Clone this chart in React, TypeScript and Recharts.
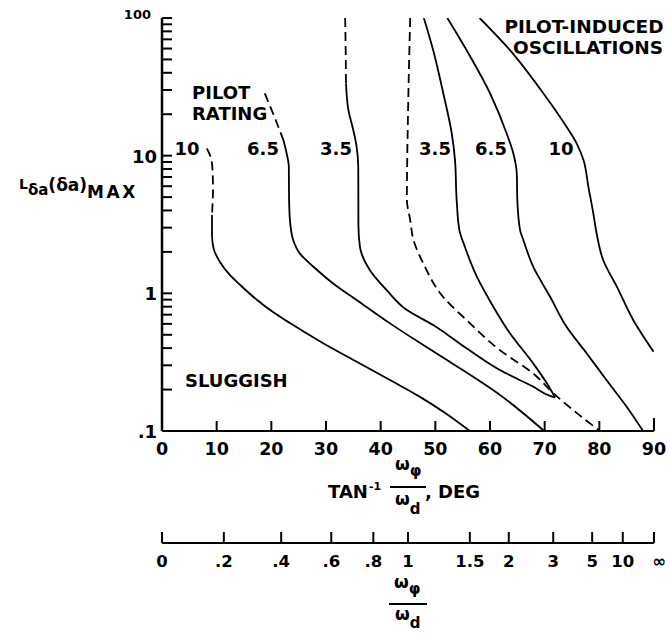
import React from 'react';
import { LineChart, Line, XAxis, YAxis } from 'recharts';

type P = { x: number; y: number };
const toPts = (a: number[][]): P[] => a.map(([x, y]) => ({ x, y }));

// [tan^-1(w_phi/w_d) deg, L_da (da)max]
const sluggish10Dashed = toPts([[8.2, 11.3], [8.96, 9.6], [9.24, 7.9], [9.33, 5.6], [9.24, 4.4], [9.15, 3.7]]);
const sluggish10 = toPts([[9.15, 3.7], [9.15, 2.65], [9.42, 2.13], [10.6, 1.69], [12.4, 1.36], [14.3, 1.15], [17.4, 0.894], [20.3, 0.731], [23.4, 0.608], [29.4, 0.436], [35.7, 0.317], [41.7, 0.235], [47.2, 0.177], [51.8, 0.135], [56.3, 0.1]]);
const sluggish65Dashed = toPts([[18.8, 28.3], [20.5, 19.4], [22.2, 13.0]]);
const sluggish65 = toPts([[22.2, 13.0], [22.8, 10.4], [23.2, 8.3], [23.25, 4.76], [23.4, 3.41], [24.0, 2.44], [25.2, 1.95], [27.7, 1.56], [31.3, 1.18], [35.6, 0.894], [41.7, 0.605], [47.8, 0.421], [52.7, 0.317], [61.8, 0.183], [69.9, 0.1]]);
const sluggish35Dashed = toPts([[33.5, 100], [33.6, 58.5], [33.66, 33.5]]);
const sluggish35 = toPts([[33.66, 33.5], [34.1, 21.4], [35.0, 15.3], [35.6, 11.6], [35.9, 8.3], [35.92, 4.76], [35.93, 3.13], [36.2, 2.18], [38.0, 1.48], [41.1, 1.056], [44.8, 0.756], [49.6, 0.589], [55.7, 0.399], [61.8, 0.277], [67.9, 0.21], [71.0, 0.18], [71.9, 0.175]]);
const boundaryDashed = toPts([[45.4, 100], [45.05, 25.3], [44.8, 4.76], [45.4, 3.41], [46.0, 2.44], [47.8, 1.65], [51.4, 0.944], [55.7, 0.64], [61.8, 0.387], [67.9, 0.262], [71.6, 0.188], [75.2, 0.142], [80.1, 0.1]]);
const pio35 = toPts([[47.9, 100], [49.6, 58.5], [51.45, 28.4], [53.0, 14.5], [53.6, 9.29], [53.9, 4.76], [54.4, 2.88], [55.4, 2.18], [57.6, 1.32], [60.6, 0.8], [63.65, 0.512], [67.9, 0.31], [70.4, 0.222], [71.9, 0.175]]);
const pio65 = toPts([[52.2, 100], [55.7, 58.5], [60.0, 28.4], [63.05, 14.5], [64.26, 10.4], [64.9, 7.44], [65.0, 4.76], [65.5, 2.88], [66.1, 2.44], [67.9, 1.56], [71.0, 0.944], [74.0, 0.571], [77.7, 0.366], [81.3, 0.235], [85.0, 0.15], [88.0, 0.1]]);
const pio10 = toPts([[58.1, 100], [63.65, 58.5], [69.75, 28.4], [74.0, 16.2], [75.85, 12.3], [77.1, 9.29], [78.0, 5.94], [78.9, 3.81], [79.5, 2.73], [80.7, 1.745], [83.2, 1.117], [86.2, 0.64], [89.9, 0.377]]);

const degTicks = [0, 10, 20, 30, 40, 50, 60, 70, 80, 90];
const ratioValues = [0, 0.2, 0.4, 0.6, 0.8, 1, 1.5, 2, 3, 5, 10, Infinity];
const ratioLabels = ['0', '.2', '.4', '.6', '.8', '1', '1.5', '2', '3', '5', '10', '\u221E'];
const ratioTicks = ratioValues.map((r) => (Math.atan(r) * 180) / Math.PI);
const yTicks = [0.1, 0.2, 0.3, 0.4, 0.5, 0.6, 0.7, 0.8, 0.9, 1, 2, 3, 4, 5, 6, 7, 8, 9, 10, 20, 30, 40, 50, 60, 70, 80, 90, 100];
const yLabels: Record<string, string> = { '0.1': '.1', '1': '1', '10': '10', '100': '100' };

const FONT = "'DejaVu Sans', 'Liberation Sans', sans-serif";
const W = 669;
const H = 634;
const M = { top: 18, right: 15, bottom: 0, left: 0 };
const Y_W = 162;
const X1_H = 112;
const X2_H = 91;
const PLOT_L = M.left + Y_W;
const PLOT_B = H - M.bottom - X1_H - X2_H;
const AX2_Y = PLOT_B + X1_H;

const DegTick = (props: any) => {
  const { x, payload } = props;
  const v = payload.value;
  return (
    <g>
      <line x1={x} x2={x} y1={PLOT_B} y2={PLOT_B - (v === 90 ? 13 : 10)} stroke="#000" strokeWidth={2} />
      <text x={x} y={PLOT_B + 24} textAnchor="middle" fontFamily={FONT} fontWeight="bold" fontSize={17.5} fill="#000">
        {v}
      </text>
    </g>
  );
};

const RatioTick = (props: any) => {
  const { x, index } = props;
  const label = ratioLabels[index] ?? '';
  const isInf = label === '\u221E';
  return (
    <g>
      <line x1={x} x2={x} y1={AX2_Y} y2={AX2_Y - 11} stroke="#000" strokeWidth={2} />
      <text x={x + (isInf ? 5 : 0)} y={AX2_Y + 24} textAnchor="middle" fontFamily={FONT} fontWeight="bold" fontSize={16.5} fill="#000">
        {label}
      </text>
    </g>
  );
};

const YTick = (props: any) => {
  const { y, payload } = props;
  const key = String(payload.value);
  const label = yLabels[key];
  const is100 = key === '100';
  return (
    <g>
      <line x1={PLOT_L} x2={PLOT_L + 10} y1={y} y2={y} stroke="#000" strokeWidth={2} />
      {label ? (
        <text x={is100 ? PLOT_L - 11 : PLOT_L - 5} y={is100 ? y + 1 : y + 7} textAnchor="end" fontFamily={FONT} fontWeight="bold" fontSize={is100 ? 13 : 18} fill="#000">
          {label}
        </text>
      ) : null}
    </g>
  );
};

const T = (p: { x: number; y: number; s?: number; a?: 'start' | 'middle' | 'end'; children: React.ReactNode }) => (
  <text x={p.x} y={p.y} textAnchor={p.a ?? 'start'} fontFamily={FONT} fontWeight="bold" fontSize={p.s ?? 18} fill="#000">
    {p.children}
  </text>
);

const lineProps = { dataKey: 'y', stroke: '#000', strokeWidth: 1.8, dot: false, activeDot: false, isAnimationActive: false, type: 'monotoneY' as const };
const dash = '9 5';

export default function App() {
  return (
    <div style={{ position: 'absolute', left: 0, top: 0, width: W, height: H, background: '#fff' }}>
      <LineChart width={W} height={H} margin={M}>
        <XAxis
          dataKey="x"
          type="number"
          domain={[0, 90]}
          ticks={degTicks}
          interval={0}
          allowDataOverflow
          height={X1_H}
          axisLine={{ stroke: '#000', strokeWidth: 2 }}
          tickLine={false}
          tick={<DegTick />}
        />
        <XAxis
          xAxisId="ratio"
          dataKey="x"
          type="number"
          domain={[0, 90]}
          ticks={ratioTicks}
          interval={0}
          allowDataOverflow
          height={X2_H}
          axisLine={{ stroke: '#000', strokeWidth: 2 }}
          tickLine={false}
          tick={<RatioTick />}
        />
        <YAxis
          dataKey="y"
          type="number"
          scale="log"
          domain={[0.1, 100]}
          ticks={yTicks}
          interval={0}
          allowDataOverflow
          width={Y_W}
          axisLine={{ stroke: '#000', strokeWidth: 2.5 }}
          tickLine={false}
          tick={<YTick />}
        />
        <Line {...lineProps} data={sluggish10Dashed} strokeDasharray={dash} />
        <Line {...lineProps} data={sluggish10} />
        <Line {...lineProps} data={sluggish65Dashed} strokeDasharray={dash} />
        <Line {...lineProps} data={sluggish65} />
        <Line {...lineProps} data={sluggish35Dashed} strokeDasharray={dash} />
        <Line {...lineProps} data={sluggish35} />
        <Line {...lineProps} data={boundaryDashed} strokeDasharray={dash} />
        <Line {...lineProps} data={pio35} />
        <Line {...lineProps} data={pio65} />
        <Line {...lineProps} data={pio10} />
        <g>
          <T x={192} y={99}>PILOT</T>
          <T x={192} y={120}>RATING</T>
          <T x={584} y={33} a="middle" s={18.5}>PILOT-INDUCED</T>
          <T x={588} y={54} a="middle" s={18.5}>OSCILLATIONS</T>
          <T x={185} y={387}>SLUGGISH</T>
          <T x={187} y={155} a="middle">10</T>
          <T x={263} y={155} a="middle">6.5</T>
          <T x={336} y={155} a="middle">3.5</T>
          <T x={435} y={155} a="middle">3.5</T>
          <T x={491} y={155} a="middle">6.5</T>
          <T x={561} y={155} a="middle">10</T>
          {/* y axis title */}
          <text x={19} y={189} fontFamily={FONT} fontWeight="bold" fontSize={14} fill="#000">
            L
            <tspan dy={6} fontSize={15}>{'\u03B4a'}</tspan>
            <tspan dy={-4} fontSize={17}>{'(\u03B4a)'}</tspan>
            <tspan dy={7} fontSize={17} letterSpacing={2.5}>MAX</tspan>
          </text>
          {/* x axis title */}
          <T x={328} y={498}>TAN</T>
          <T x={369} y={490} s={11}>-1</T>
          <text x={395} y={470} fontFamily={FONT} fontWeight="bold" fontSize={17} fill="#000">
            {'\u03C9'}
            <tspan dy={6} fontSize={15}>{'\u03C6'}</tspan>
          </text>
          <line x1={390} x2={426} y1={487} y2={487} stroke="#000" strokeWidth={2} />
          <text x={395} y={505} fontFamily={FONT} fontWeight="bold" fontSize={17} fill="#000">
            {'\u03C9'}
            <tspan dy={9} fontSize={15}>d</tspan>
          </text>
          <T x={425} y={498}>, DEG</T>
          {/* ratio axis title */}
          <text x={394} y={588} fontFamily={FONT} fontWeight="bold" fontSize={17} fill="#000">
            {'\u03C9'}
            <tspan dy={6} fontSize={15}>{'\u03C6'}</tspan>
          </text>
          <line x1={389} x2={427} y1={604} y2={604} stroke="#000" strokeWidth={2} />
          <text x={395} y={620} fontFamily={FONT} fontWeight="bold" fontSize={17} fill="#000">
            {'\u03C9'}
            <tspan dy={8} fontSize={15}>d</tspan>
          </text>
        </g>
      </LineChart>
    </div>
  );
}
